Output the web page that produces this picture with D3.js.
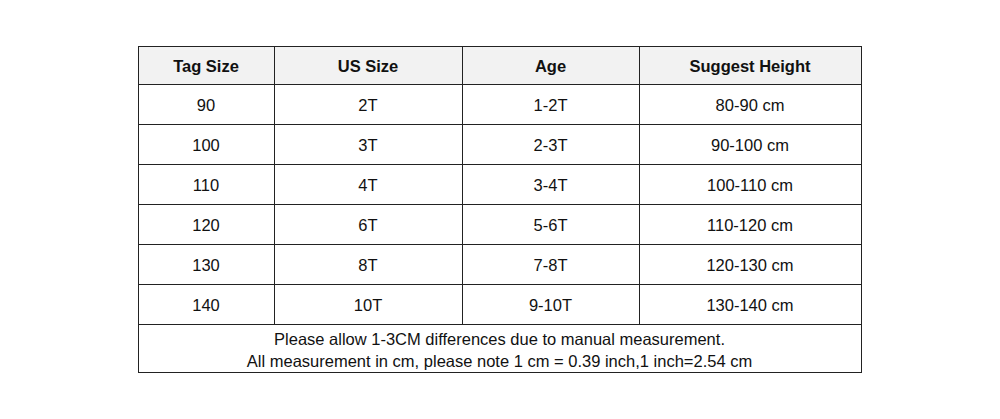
<!DOCTYPE html>
<html lang="en">
<head>
<meta charset="UTF-8">
<title>Size chart</title>
<script src="https://cdn.jsdelivr.net/npm/d3@7"></script>
<style>
    body { margin: 0; background: #fff; }
    svg { display: block; }
    text { font-family: "Liberation Sans", Arial, sans-serif; font-size: 16.5px; fill: #111; }
    .head { font-weight: bold; }
</style>
</head>
<body>
<script>
    // table data
    const headers = ["Tag Size", "US Size", "Age", "Suggest Height"];
    const tagSizes = ["90", "100", "110", "120", "130", "140"];
    const usSizes = ["2T", "3T", "4T", "6T", "8T", "10T"];
    const ages = ["1-2T", "2-3T", "3-4T", "5-6T", "7-8T", "9-10T"];
    const heights = ["80-90 cm", "90-100 cm", "100-110 cm", "110-120 cm", "120-130 cm", "130-140 cm"];
    const notes = [
        "Please allow 1-3CM differences due to manual measurement.",
        "All measurement in cm, please note 1 cm = 0.39 inch,1 inch=2.54 cm"
    ];

    const width = 1000, height = 419;
    const svg = d3.select("body").append("svg")
        .attr("width", width).attr("height", height);

    // column edges and row edges
    const colEdges = [138, 274, 462, 639, 861];
    const tableTop = 46, headH = 38, rowH = 40, footH = 48;
    const rows = tagSizes.map((t, i) => [t, usSizes[i], ages[i], heights[i]]);
    const bodyTop = tableTop + headH;
    const footTop = bodyTop + rowH * rows.length;
    const tableBottom = footTop + footH;

    const y = d3.scaleBand().domain(d3.range(rows.length)).range([bodyTop, footTop]);
    const g = svg.append("g");

    // header background
    g.append("rect")
        .attr("x", colEdges[0]).attr("y", tableTop)
        .attr("width", colEdges[4] - colEdges[0]).attr("height", headH)
        .attr("fill", "#f2f2f2");

    // header texts
    g.selectAll(".head").data(headers).enter().append("text")
        .attr("class", "head")
        .attr("x", (d, i) => (colEdges[i] + colEdges[i + 1]) / 2)
        .attr("y", tableTop + headH / 2 + 1)
        .attr("dy", "0.35em")
        .attr("text-anchor", "middle")
        .text(d => d);

    // body cells
    g.selectAll(".row").data(rows).enter().append("g")
        .attr("class", "row")
        .attr("transform", (d, i) => `translate(0,${y(i) + y.bandwidth() / 2 + 1})`)
        .selectAll("text").data(d => d).enter().append("text")
        .attr("x", (d, i) => (colEdges[i] + colEdges[i + 1]) / 2)
        .attr("dy", "0.35em")
        .attr("text-anchor", "middle")
        .text(d => d);

    // footer notes
    g.selectAll(".note").data(notes).enter().append("text")
        .attr("class", "note")
        .attr("x", (colEdges[0] + colEdges[4]) / 2)
        .attr("y", (d, i) => footTop + 15 + i * 22)
        .attr("dy", "0.35em")
        .attr("text-anchor", "middle")
        .text(d => d);

    // grid lines
    const lineCol = "#222";
    const hLines = [tableTop, bodyTop].concat(d3.range(1, rows.length + 1).map(i => bodyTop + i * rowH), [tableBottom]);
    g.selectAll(".hl").data(hLines).enter().append("line")
        .attr("class", "hl")
        .attr("x1", colEdges[0]).attr("x2", colEdges[4] + 1)
        .attr("y1", d => d + 0.5).attr("y2", d => d + 0.5)
        .attr("stroke", lineCol).attr("stroke-width", 1);

    g.selectAll(".vl").data(colEdges).enter().append("line")
        .attr("class", "vl")
        .attr("x1", d => d + 0.5).attr("x2", d => d + 0.5)
        .attr("y1", tableTop)
        .attr("y2", (d, i) => (i === 0 || i === colEdges.length - 1) ? tableBottom + 1 : footTop)
        .attr("stroke", lineCol).attr("stroke-width", 1);
</script>
</body>
</html>
